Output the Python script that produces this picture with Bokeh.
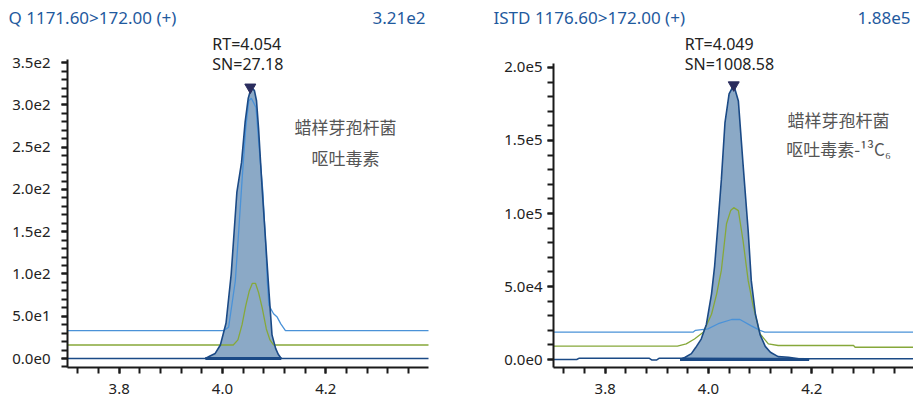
from bokeh.plotting import figure
from bokeh.layouts import row, column
from bokeh.models import Label, SingleIntervalTicker, CustomJSTickFormatter, PrintfTickFormatter, Range1d
from bokeh.embed import file_html
from bokeh.resources import INLINE

# ---------------- data ----------------
x_window = [3.70, 4.40]

# Quantifier panel
q_title = "Q 1171.60>172.00 (+)"
q_max_label = "3.21e2"
q_rt = 4.054
q_sn = "27.18"
q_name = ["蜡样芽孢杆菌", "呕吐毒素"]
q_peak_x = [3.967, 3.976, 3.986, 3.996, 4.007, 4.017, 4.028, 4.037, 4.044, 4.050, 4.056, 4.062,
            4.066, 4.070, 4.077, 4.083, 4.090, 4.096, 4.103, 4.108, 4.114]
q_peak_y = [0, 3, 6, 16, 42, 100, 197, 232, 280, 308, 321, 317,
            305, 272, 200, 145, 80, 28, 12, 5, 0]
q_base_x = [3.70, 4.40]
q_base_y = [0, 0]
q_ion2_x = [3.70, 4.002, 4.012, 4.025, 4.032, 4.038, 4.045, 4.051, 4.056, 4.065, 4.073, 4.078,
            4.084, 4.087, 4.090, 4.099, 4.106, 4.113, 4.122, 4.40]
q_ion2_y = [33, 33, 37, 92, 155, 211, 272, 305, 308, 297, 235, 200,
            132, 90, 63, 53, 49, 41, 33, 33]
q_ion3_x = [3.70, 4.021, 4.030, 4.038, 4.045, 4.052, 4.058, 4.064, 4.070, 4.077, 4.085, 4.092, 4.099, 4.40]
q_ion3_y = [16, 16, 22, 40, 62, 80, 89, 89, 78, 60, 35, 22, 16, 16]

# Internal standard panel
i_title = "ISTD 1176.60>172.00 (+)"
i_max_label = "1.88e5"
i_rt = 4.049
i_sn = "1008.58"
i_name = ["蜡样芽孢杆菌", "呕吐毒素-¹³C₆"]
i_peak_x = [3.945, 3.955, 3.967, 3.975, 3.986, 3.996, 4.006, 4.012, 4.019, 4.025, 4.032, 4.040,
            4.049, 4.058, 4.067, 4.077, 4.083, 4.091, 4.100, 4.110, 4.120, 4.135, 4.155, 4.175, 4.195]
i_peak_y = [0, 1500, 4000, 8000, 14000, 24000, 45000, 64000, 95000, 123000, 162000, 182000,
            188000, 177000, 134000, 88000, 54000, 31000, 17000, 9000, 5000, 2000, 1500, 500, 0]
i_base_x = [3.70, 3.745, 3.75, 3.885, 3.89, 3.90, 3.905, 3.945, 4.195, 4.40]
i_base_y = [0, 0, 900, 900, -300, -300, 900, 900, 500, 500]
i_ion2_x = [3.70, 3.970, 3.975, 3.999, 4.019, 4.045, 4.061, 4.083, 4.100, 4.109, 4.40]
i_ion2_y = [18700, 18700, 20000, 21000, 24500, 27400, 27400, 23000, 20000, 18700, 18700]
i_ion3_x = [3.70, 3.940, 3.957, 3.973, 3.990, 4.006, 4.016, 4.025, 4.035, 4.043, 4.049, 4.058,
            4.067, 4.077, 4.087, 4.100, 4.116, 4.135, 4.281, 4.284, 4.40]
i_ion3_y = [9100, 9100, 10700, 14000, 18700, 31000, 45000, 61000, 93000, 102000, 104000, 102000,
            81500, 54000, 36000, 17600, 10700, 9600, 9600, 8400, 8400]

# ---------------- style ----------------
TITLE_COLOR = "#1F5A9E"
FILL = "#8BA9C6"
DARK = "#1B4A86"
LIGHT = "#4A92D8"
GREEN = "#86A83A"
MARK = "#2B2D5E"
LATIN = "Noto Sans"
CJK = "Noto Sans CJK SC"
HEAD_H = 28          # header strip height (page px)
PAGE_H = 397
AXIS_Y = 367         # page y of the x axis line


def make_panel(width, border_left, frame_w, x_end, y_range, y_axis_top, y_interval, ylab_standoff,
               rt, sn, names, name_x, name_y, rt_dx,
               peak_x, peak_y, base_x, base_y, ion2_x, ion2_y, ion3_x, ion3_y):
    p = figure(width=width, height=PAGE_H - HEAD_H, output_backend="svg", toolbar_location=None,
               x_range=Range1d(x_window[0], x_end), y_range=Range1d(*y_range),
               min_border_left=border_left, min_border_right=width - border_left - frame_w,
               min_border_top=0, min_border_bottom=PAGE_H - AXIS_Y)
    p.outline_line_color = None
    p.grid.visible = False
    p.background_fill_color = "white"
    p.border_fill_color = "white"

    for ax in (p.xaxis[0], p.yaxis[0]):
        ax.axis_line_width = 2
        ax.axis_line_color = "#1a1a1a"
        ax.major_tick_line_color = "#1a1a1a"
        ax.minor_tick_line_color = "#1a1a1a"
        ax.major_tick_line_width = 2
        ax.minor_tick_line_width = 2
        ax.major_tick_in = 0
        ax.minor_tick_in = 0
        ax.major_tick_out = 6
        ax.minor_tick_out = 6
        ax.major_label_text_font = LATIN
        ax.major_label_text_font_size = "15px"
        ax.major_label_text_color = "#222222"
    p.xaxis[0].ticker = SingleIntervalTicker(interval=0.2, num_minor_ticks=5)
    p.xaxis[0].formatter = PrintfTickFormatter(format="%.1f")
    p.xaxis[0].major_label_standoff = 10
    p.yaxis[0].ticker = SingleIntervalTicker(interval=y_interval, num_minor_ticks=5)
    p.yaxis[0].formatter = CustomJSTickFormatter(code="return tick.toExponential(1).replace('+','');")
    p.yaxis[0].major_label_standoff = ylab_standoff
    p.yaxis[0].bounds = (y_range[0], y_axis_top)

    # filled peak
    p.varea(x=peak_x, y1=[0] * len(peak_x), y2=peak_y, fill_color=FILL, fill_alpha=1.0)
    # other ion traces
    p.line(ion2_x, ion2_y, line_color=LIGHT, line_width=1.3)
    p.line(ion3_x, ion3_y, line_color=GREEN, line_width=1.3)
    # baseline and outline
    p.line(base_x, base_y, line_color=DARK, line_width=1.5)
    p.line(peak_x, peak_y, line_color=DARK, line_width=1.6)
    p.line([peak_x[0], peak_x[-1]], [0, 0], line_color=DARK, line_width=3)
    top = max(peak_y)
    p.scatter([rt], [top], marker="inverted_triangle", size=11, fill_color=MARK, line_color=MARK)

    # RT / SN annotation (y: page px converted to frame-relative)
    p.add_layout(Label(x=rt, y=AXIS_Y - 43, y_units="screen", x_offset=rt_dx, text=f"RT={rt:.3f}",
                       text_font=LATIN, text_font_size="16px", text_color="#222222",
                       text_align="left", text_baseline="middle"))
    p.add_layout(Label(x=rt, y=AXIS_Y - 63, y_units="screen", x_offset=rt_dx, text=f"SN={sn}",
                       text_font=LATIN, text_font_size="16px", text_color="#222222",
                       text_align="left", text_baseline="middle"))
    # compound names
    for txt, ny in zip(names, name_y):
        p.add_layout(Label(x=name_x, y=AXIS_Y - ny, x_units="screen", y_units="screen", text=txt,
                           text_font=CJK, text_font_size="17px", text_color="#555555",
                           text_align="center", text_baseline="middle"))
    return p


# header strip carrying the channel titles and the max intensities
head = figure(width=913, height=HEAD_H, output_backend="svg", toolbar_location=None,
              x_range=Range1d(0, 913), y_range=Range1d(0, HEAD_H), min_border=0)
head.axis.visible = False
head.grid.visible = False
head.outline_line_color = None
for txt, hx, align in [(q_title, 8, "left"), (q_max_label, 425, "right"),
                       (i_title, 493, "left"), (i_max_label, 910, "right")]:
    head.add_layout(Label(x=hx, y=HEAD_H - 17, x_units="screen", y_units="screen", text=txt,
                          text_font=LATIN, text_font_size="17px", text_color=TITLE_COLOR,
                          text_align=align, text_baseline="middle"))

p1 = make_panel(493, 67, 361, x_window[0] + 360 / 515, (-10.65, 390.5), 353.8, 50, 11,
                q_rt, q_sn, q_name, 278, [126, 157], -38,
                q_peak_x, q_peak_y, q_base_x, q_base_y, q_ion2_x, q_ion2_y, q_ion3_x, q_ion3_y)
p2 = make_panel(420, 60, 360, x_window[0] + 359 / 515, (-5479, 226712), 202740, 50000, 5,
                i_rt, i_sn, i_name, 285, [119, 148], -49,
                i_peak_x, i_peak_y, i_base_x, i_base_y, i_ion2_x, i_ion2_y, i_ion3_x, i_ion3_y)

layout = column(head, row(p1, p2))
open("out.html", "w").write(file_html(layout, INLINE))
